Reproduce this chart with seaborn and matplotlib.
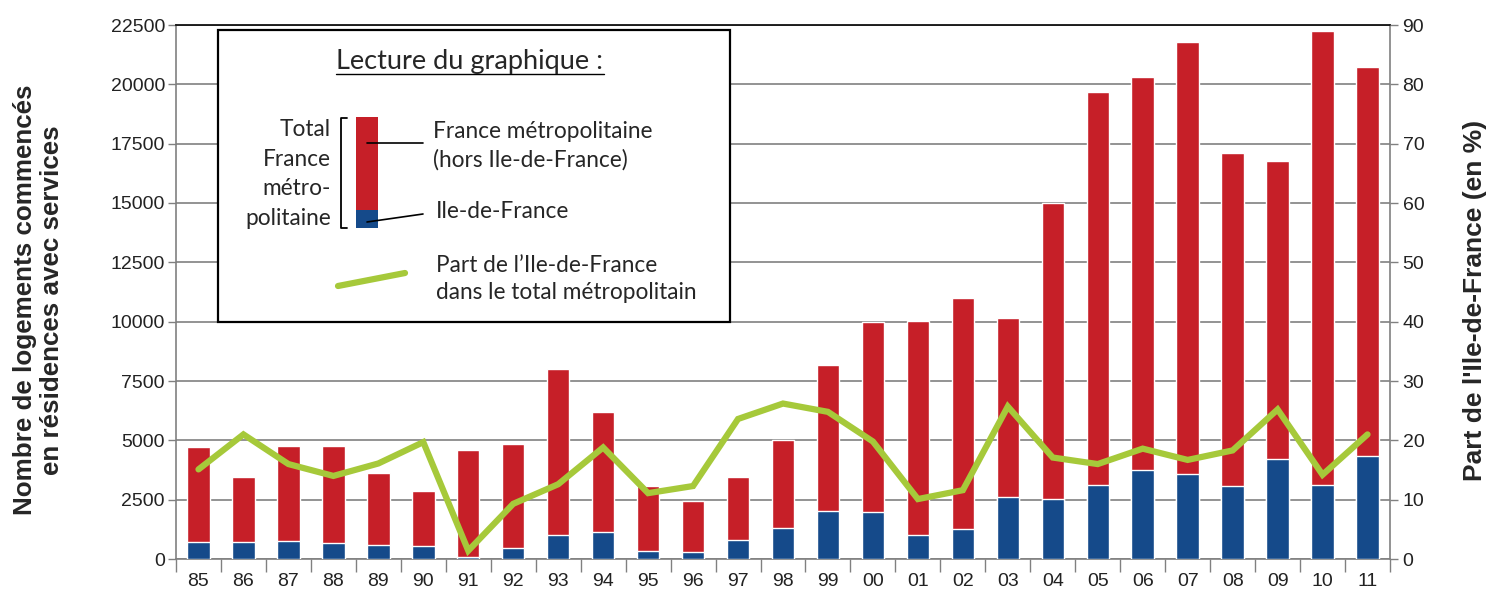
import numpy as np
import pandas as pd
import seaborn as sns
import matplotlib.pyplot as plt
from matplotlib.patches import Rectangle
from matplotlib.lines import Line2D

annees = ["85", "86", "87", "88", "89", "90", "91", "92", "93", "94", "95", "96", "97", "98",
          "99", "00", "01", "02", "03", "04", "05", "06", "07", "08", "09", "10", "11"]
total_metro = [4720, 3460, 4770, 4760, 3620, 2880, 4580, 4850, 8010, 6210, 3060, 2430, 3470, 5000,
               8170, 10000, 10030, 11000, 10150, 15000, 19680, 20320, 21780, 17090, 16770, 22260, 20740]
ile_de_france = [700, 730, 760, 670, 590, 560, 70, 450, 1010, 1150, 340, 300, 800, 1310,
                 2040, 1970, 1000, 1260, 2600, 2540, 3130, 3730, 3590, 3090, 4210, 3120, 4360]
part_idf = [15.1, 21.0, 16.0, 14.0, 16.1, 19.7, 1.4, 9.3, 12.6, 18.8, 11.1, 12.3, 23.6, 26.2,
            24.8, 19.8, 10.1, 11.6, 25.7, 17.1, 16.0, 18.6, 16.7, 18.3, 25.2, 14.2, 21.0]

rouge = "#c61f28"
bleu = "#154a8a"
vert = "#a6c93a"
gris = "#808080"

df = pd.DataFrame({"annee": annees, "total": total_metro, "idf": ile_de_france, "part": part_idf})

sns.set_theme(style="white")
plt.rcParams["font.family"] = ["Liberation Sans", "DejaVu Sans"]

W, H = 1490, 594
fig, ax = plt.subplots(figsize=(W / 100, H / 100), dpi=100)
fig.subplots_adjust(left=176 / W, right=1390 / W, top=1 - 25 / H, bottom=1 - 559 / H)

sns.barplot(data=df, x="annee", y="total", color=rouge, width=0.5, saturation=1, ax=ax, zorder=2)
sns.barplot(data=df, x="annee", y="idf", color=bleu, width=0.5, saturation=1, ax=ax, zorder=3)

ax.set_ylim(0, 22500)
ax.set_xlim(-0.5, len(annees) - 0.5)
ax.set_yticks(np.arange(0, 22501, 2500))
ax.yaxis.grid(True, color=gris, lw=1.2)
ax.set_axisbelow(True)
ax.set_xlabel("")
ax.set_ylabel("Nombre de logements commencés\nen résidences avec services",
              fontsize=18.7, fontweight="bold", linespacing=1.15)
ax.yaxis.set_label_coords(-0.092, 0.485)
ax.yaxis.label.set_verticalalignment("bottom")

ax.set_xticks(range(len(annees)))
ax.set_xticklabels(annees)
ax.set_xticks(np.arange(-0.5, len(annees), 1), minor=True)
ax.tick_params(axis="x", which="major", length=0, pad=10, labelsize=14, labelcolor="#222222")
ax.tick_params(axis="x", which="minor", length=9, width=1, color=gris, direction="out", bottom=True)
ax.tick_params(axis="y", length=6, width=1, color=gris, direction="out", left=True, pad=2,
               labelsize=14, labelcolor="#222222")

for s in ["left", "bottom", "right"]:
    ax.spines[s].set_color(gris)
    ax.spines[s].set_linewidth(1.2)
ax.spines["top"].set_color("#111111")
ax.spines["top"].set_linewidth(1.3)

ax2 = ax.twinx()
sns.lineplot(x=df.index, y=df["part"], color=vert, lw=4.5, ax=ax2, solid_joinstyle="miter")
ax2.set_ylim(0, 90)
ax2.set_yticks(np.arange(0, 91, 10))
ax2.grid(False)
ax2.tick_params(axis="y", length=6, width=1, color=gris, direction="out", right=True, pad=3,
                labelsize=14, labelcolor="#222222")
ax2.set_ylabel("Part de l'Ile-de-France (en %)", fontsize=19, fontweight="bold", rotation=90)
ax2.yaxis.set_label_coords(1.0605, 0.485)
ax2.yaxis.label.set_verticalalignment("top")
for s in ax2.spines.values():
    s.set_visible(False)


# encadré "Lecture du graphique"
def px(x, y):
    return x / W, 1 - y / H


police = ["Lato", "DejaVu Sans"]
x0, y0 = px(218, 322)
x1, y1 = px(730, 30)
fig.add_artist(Rectangle((x0, y0), x1 - x0, y1 - y0, transform=fig.transFigure,
                         facecolor="white", edgecolor="black", lw=1.6, zorder=10))

fig.text(*px(470, 61), "Lecture du graphique :", ha="center", va="center",
         fontsize=19.5, family=police, zorder=11)
fig.add_artist(Line2D([336 / W, 604 / W], [1 - 74 / H, 1 - 74 / H], color="black", lw=1, zorder=11))

bx0, by0 = px(356, 210)
bx1, by1 = px(378, 117)
fig.add_artist(Rectangle((bx0, by0), bx1 - bx0, by1 - by0, transform=fig.transFigure,
                         facecolor=rouge, edgecolor="none", zorder=11))
bx0, by0 = px(356, 228)
bx1, by1 = px(378, 210)
fig.add_artist(Rectangle((bx0, by0), bx1 - bx0, by1 - by0, transform=fig.transFigure,
                         facecolor=bleu, edgecolor="none", zorder=11))

crochet = [px(347, 118), px(341, 118), px(341, 228), px(347, 228)]
fig.add_artist(Line2D([p[0] for p in crochet], [p[1] for p in crochet], color="black", lw=1.3, zorder=11))

fig.text(*px(331, 174), "Total\nFrance\nmétro-\npolitaine", ha="right", va="center",
         fontsize=16.3, family=police, linespacing=1.5, zorder=11)

for (xa, ya), (xb, yb) in [((367, 143), (423, 143)), ((367, 222), (423, 214))]:
    pa, pb = px(xa, ya), px(xb, yb)
    fig.add_artist(Line2D([pa[0], pb[0]], [pa[1], pb[1]], color="black", lw=1.2, zorder=12))

fig.text(*px(433, 146), "France métropolitaine\n(hors Ile-de-France)", ha="left", va="center",
         fontsize=16.3, family=police, linespacing=1.4, zorder=11)
fig.text(*px(436, 212), "Ile-de-France", ha="left", va="center",
         fontsize=16.3, family=police, zorder=11)

pa, pb = px(338, 286), px(405, 273)
fig.add_artist(Line2D([pa[0], pb[0]], [pa[1], pb[1]], color=vert, lw=4.5, zorder=11))
fig.text(*px(436, 279), "Part de l\u2019Ile-de-France\ndans le total métropolitain", ha="left",
         va="center", fontsize=16.3, family=police, linespacing=1.4, zorder=11)

fig.savefig("out.png", dpi=100)
